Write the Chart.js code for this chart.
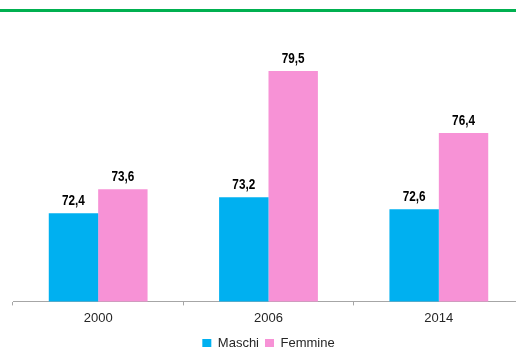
<!DOCTYPE html>
<html>
<head>
<meta charset="utf-8">
<script src="https://cdn.jsdelivr.net/npm/chart.js@4/dist/chart.umd.min.js"></script>
<style>
  html, body { margin: 0; padding: 0; background: #fff; overflow: hidden; }
  #wrap { position: relative; width: 516px; height: 347px; overflow: hidden; }
  #topline { position: absolute; left: 0; top: 9px; width: 516px; height: 3px; background: #00B050; }
  canvas { position: absolute; left: 0; top: 0; }
</style>
</head>
<body>
<div id="wrap">
  <div id="topline"></div>
  <canvas id="grafico" width="536" height="360"></canvas>
</div>
<script>
const anni = ['2000', '2006', '2014'];
const maschi = [72.4, 73.2, 72.6];
const femmine = [73.6, 79.5, 76.4];

const font = "'Liberation Sans', Arial, sans-serif";

// etichette sopra le barre, con la virgola decimale (carattere stretto)
const etichette = {
    id: 'etichette',
    afterDatasetsDraw(chart) {
        const c = chart.ctx;
        c.font = 'bold 14px ' + font;
        c.fillStyle = '#000';
        c.textAlign = 'center';
        c.textBaseline = 'bottom';
        chart.data.datasets.forEach((ds, i) => {
            chart.getDatasetMeta(i).data.forEach((bar, j) => {
                c.save();
                c.translate(bar.x, bar.y - 5);
                c.scale(0.84, 1);
                c.fillText(ds.data[j].toFixed(1).replace('.', ','), 0, 0);
                c.restore();
            });
        });
    }
};

new Chart(document.getElementById('grafico').getContext('2d'), {
    type: 'bar',
    data: {
        labels: anni,
        datasets: [
            { label: 'Maschi', data: maschi, backgroundColor: '#00B0F0', categoryPercentage: 0.58, barPercentage: 1 },
            { label: 'Femmine', data: femmine, backgroundColor: '#F792D6', categoryPercentage: 0.58, barPercentage: 1 }
        ]
    },
    options: {
        responsive: false,
        animation: false,
        layout: { padding: { left: 13, right: 12, top: 61, bottom: 0 } },
        scales: {
            x: {
                border: { color: '#A6A6A6', width: 1 },
                grid: { drawOnChartArea: false, color: '#A6A6A6', tickLength: 4 },
                ticks: { color: '#262626', font: { family: font, size: 13 }, padding: 5 }
            },
            y: {
                display: false,
                min: 68,
                max: 80
            }
        },
        plugins: {
            legend: {
                position: 'bottom',
                labels: {
                    color: '#262626',
                    font: { family: font, size: 13 },
                    boxWidth: 9,
                    boxHeight: 9,
                    padding: 6
                }
            },
            tooltip: { enabled: false }
        }
    },
    plugins: [etichette]
});
</script>
</body>
</html>
